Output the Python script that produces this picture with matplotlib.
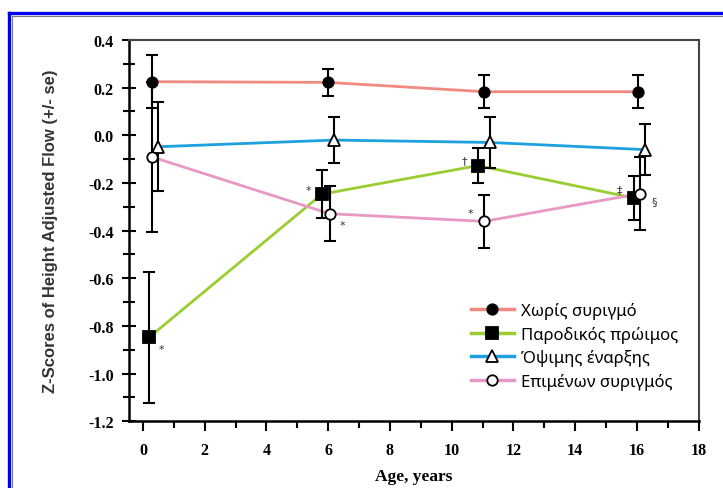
import matplotlib
matplotlib.use("Agg")
import matplotlib.pyplot as plt
from matplotlib.lines import Line2D

# Ηλικία (έτη) για κάθε ομάδα - λίγο μετατοπισμένες για να μη συμπίπτουν
age_none = [0.3, 6.0, 11.05, 16.05]
age_transient = [0.2, 5.8, 10.85, 15.9]
age_late = [0.5, 6.2, 11.25, 16.25]
age_persistent = [0.3, 6.05, 11.05, 16.1]

# Z-scores και τυπικά σφάλματα
z_none = [0.225, 0.222, 0.183, 0.183]
se_none = [0.112, 0.058, 0.07, 0.07]
z_transient = [-0.848, -0.247, -0.127, -0.263]
se_transient = [0.276, 0.1, 0.073, 0.092]
z_late = [-0.048, -0.02, -0.03, -0.06]
se_late = [0.187, 0.098, 0.107, 0.107]
z_persistent = [-0.091, -0.329, -0.361, -0.245]
se_persistent = [0.315, 0.116, 0.11, 0.154]

labels = ["Χωρίς συριγμό", "Παροδικός πρώιμος", "Όψιμης έναρξης", "Επιμένων συριγμός"]

fig = plt.figure(figsize=(7.23, 4.89), dpi=100)
ax = fig.add_axes([0.1784, 0.1364, 0.788, 0.7798])

series = [
    (age_none, z_none, se_none, "#f08a80", "o", "black", 7.5),
    (age_transient, z_transient, se_transient, "#9acd32", "s", "black", 8.5),
    (age_late, z_late, se_late, "#1ea0e0", "^", "white", 8),
    (age_persistent, z_persistent, se_persistent, "#e898c4", "o", "white", 7.5),
]

handles = []
for (x, y, e, col, mk, face, ms), lab in zip(series, labels):
    ax.plot(x, y, color=col, lw=2, zorder=2)
    ax.errorbar(x, y, yerr=e, fmt="none", ecolor="black", elinewidth=1.5,
                capsize=4, capthick=1.5, zorder=3)
    ax.plot(x, y, linestyle="none", marker=mk, ms=ms, mfc=face, mec="black",
            mew=1.3, zorder=4)
    handles.append(Line2D([], [], color=col, lw=2.5, marker=mk, ms=ms, mfc=face,
                          mec="black", mew=1.3))

# σημάνσεις στατιστικής σημαντικότητας
marks = [
    (age_transient[0], z_transient[0], "*", 9, -8),
    (age_transient[1], z_transient[1], "*", -10, 3),
    (age_persistent[1], z_persistent[1], "*", 9, -8),
    (age_transient[2], z_transient[2], "†", -10, 4),
    (age_persistent[2], z_persistent[2], "*", -10, 6),
    (age_transient[3], z_transient[3], "‡", -10, 6),
    (age_persistent[3], z_persistent[3], "§", 10, -5),
]
for x, y, s, dx, dy in marks:
    ax.annotate(s, (x, y), xytext=(dx, dy), textcoords="offset points",
                ha="center", va="center", fontsize=8, color="#333333")

ax.set_xlim(-0.45, 18)
ax.set_ylim(-1.2, 0.4)
ax.set_xticks(range(0, 19, 2))
ax.set_xticks(range(1, 18, 2), minor=True)
ax.set_yticks([-1.2, -1.0, -0.8, -0.6, -0.4, -0.2, 0.0, 0.2, 0.4])
ax.set_yticks([-1.1, -0.9, -0.7, -0.5, -0.3, -0.1, 0.1, 0.3], minor=True)
ax.set_yticklabels(["-1.2", "-1.0", "-0.8", "-0.6", "-0.4", "-0.2", "0.0", "0.2", "0.4"])

ax.tick_params(axis="x", which="both", direction="out", width=1.5, top=False)
ax.tick_params(axis="x", which="major", length=7, pad=8)
ax.tick_params(axis="x", which="minor", length=5)
ax.tick_params(axis="y", which="both", direction="inout", width=1.5, right=False)
ax.tick_params(axis="y", which="major", length=10, pad=6)
ax.tick_params(axis="y", which="minor", length=8)
for t in ax.get_xticklabels() + ax.get_yticklabels():
    t.set_fontfamily("Liberation Serif")
    t.set_fontweight("bold")
    t.set_fontsize(11.5)

for s in ["left", "bottom"]:
    ax.spines[s].set_linewidth(1.8)
    ax.spines[s].set_color("black")
for s in ["top", "right"]:
    ax.spines[s].set_linewidth(1.5)
    ax.spines[s].set_color("#444444")

ax.set_xlabel("Age, years", fontfamily="Liberation Serif", fontweight="bold",
              fontsize=12.5, labelpad=7)
ax.set_ylabel("Z-Scores of Height Adjusted Flow (+/- se)", fontfamily="Liberation Sans",
              fontweight="bold", fontsize=12, labelpad=22, color="#333333")

ax.legend(handles, labels, loc="upper left", bbox_to_anchor=(0.585, 0.335),
          frameon=False, handlelength=2.6, handletextpad=0.4, labelspacing=0.4,
          borderpad=0, prop={"family": "Noto Sans", "size": 12})

# μπλε πλαίσιο της σελίδας
fig.add_artist(Line2D([0.0124, 1.0], [0.9714, 0.9714], color="#0000ee", lw=2.4,
                      transform=fig.transFigure))
fig.add_artist(Line2D([0.0124, 0.0124], [0.0, 0.9714], color="#0000ee", lw=2.4,
                      transform=fig.transFigure))
fig.add_artist(Line2D([0.017, 1.0], [0.965, 0.965], color="#777777", lw=0.8,
                      transform=fig.transFigure))
fig.add_artist(Line2D([0.017, 0.017], [0.0, 0.965], color="#777777", lw=0.8,
                      transform=fig.transFigure))

fig.savefig("out.png", dpi=100)
